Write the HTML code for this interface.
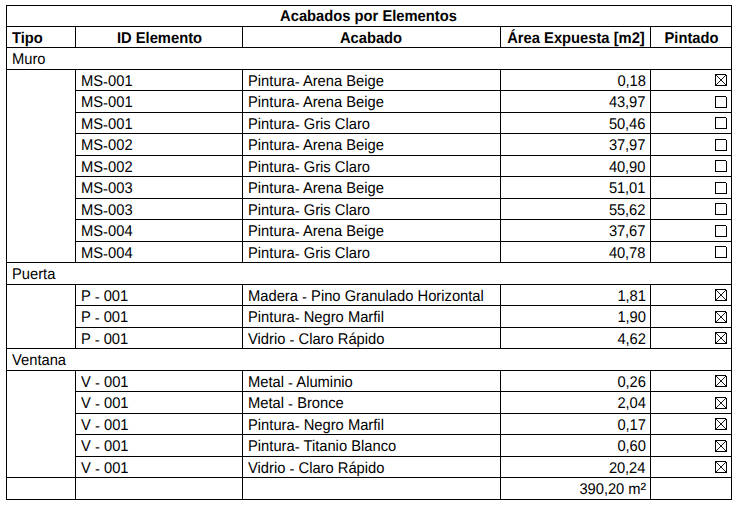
<!DOCTYPE html><html><head><meta charset="utf-8"><style>
html,body{margin:0;padding:0;background:#fff;}
body{width:746px;height:513px;position:relative;overflow:hidden;font-family:"Liberation Sans",sans-serif;font-size:15.5px;color:#000;}
.h{position:absolute;height:1px;background:#000;left:6px;width:726px;}
.v{position:absolute;width:1px;background:#000;}
.t{position:absolute;white-space:nowrap;text-rendering:geometricPrecision;line-height:17px;height:17px;}
.b{font-weight:bold;}
.cb{position:absolute;width:12px;height:12px;}
</style></head><body>
<div class="h" style="top:5px"></div>
<div class="h" style="top:26px"></div>
<div class="h" style="top:47px"></div>
<div class="h" style="top:69px"></div>
<div class="h" style="top:90px;left:75px;width:657px"></div>
<div class="h" style="top:112px;left:75px;width:657px"></div>
<div class="h" style="top:133px;left:75px;width:657px"></div>
<div class="h" style="top:155px;left:75px;width:657px"></div>
<div class="h" style="top:176px;left:75px;width:657px"></div>
<div class="h" style="top:198px;left:75px;width:657px"></div>
<div class="h" style="top:219px;left:75px;width:657px"></div>
<div class="h" style="top:241px;left:75px;width:657px"></div>
<div class="h" style="top:262px"></div>
<div class="h" style="top:284px"></div>
<div class="h" style="top:305px;left:75px;width:657px"></div>
<div class="h" style="top:327px;left:75px;width:657px"></div>
<div class="h" style="top:348px"></div>
<div class="h" style="top:370px"></div>
<div class="h" style="top:391px;left:75px;width:657px"></div>
<div class="h" style="top:413px;left:75px;width:657px"></div>
<div class="h" style="top:434px;left:75px;width:657px"></div>
<div class="h" style="top:456px;left:75px;width:657px"></div>
<div class="h" style="top:477px"></div>
<div class="h" style="top:499px"></div>
<div class="v" style="left:6px;top:5px;height:495px"></div>
<div class="v" style="left:731px;top:5px;height:495px"></div>
<div class="t b" style="top:8px;transform:scale(0.9503,1);transform-origin:center top;left:6.3px;width:725px;text-align:center">Acabados por Elementos</div>
<div class="v" style="left:75px;top:26px;height:22px"></div>
<div class="v" style="left:242px;top:26px;height:22px"></div>
<div class="v" style="left:500px;top:26px;height:22px"></div>
<div class="v" style="left:650px;top:26px;height:22px"></div>
<div class="t b" style="top:30px;transform:scale(0.9503,1);transform-origin:left top;left:12.4px">Tipo</div>
<div class="t b" style="top:30px;transform:scale(0.9503,1);transform-origin:center top;left:75.75px;width:167px;text-align:center">ID Elemento</div>
<div class="t b" style="top:30px;transform:scale(0.9503,1);transform-origin:center top;left:242.4px;width:258px;text-align:center">Acabado</div>
<div class="t b" style="top:30px;transform:scale(0.9503,1);transform-origin:center top;left:500.5px;width:150px;text-align:center">Área Expuesta [m2]</div>
<div class="t b" style="top:30px;transform:scale(0.9503,1);transform-origin:center top;left:650.75px;width:81px;text-align:center">Pintado</div>
<div class="t " style="top:51px;transform:scale(0.9503,1);transform-origin:left top;left:12px">Muro</div>
<div class="v" style="left:75px;top:69px;height:22px"></div>
<div class="v" style="left:242px;top:69px;height:22px"></div>
<div class="v" style="left:500px;top:69px;height:22px"></div>
<div class="v" style="left:650px;top:69px;height:22px"></div>
<div class="t " style="top:73px;transform:scale(0.9503,1);transform-origin:left top;left:81px">MS<span style="position:relative;top:0.5px">-</span>001</div>
<div class="t " style="top:73px;transform:scale(0.9503,1);transform-origin:left top;left:248px">Pintura<span style="position:relative;top:0.5px">-</span> Arena Beige</div>
<div class="t " style="top:73px;transform:scale(0.9503,1);transform-origin:right top;letter-spacing:-0.1px;right:100.4px">0,18</div>
<svg class="cb" style="left:715px;top:74px" viewBox="0 0 12 12"><path shape-rendering="crispEdges" fill="#000" fill-rule="evenodd" d="M0 0H11V1H12V12H0ZM1 1V11H11V1Z"/><path d="M1 1L11 11M11 1L1 11" stroke="#000" stroke-width="0.9" fill="none"/></svg>
<div class="v" style="left:75px;top:90px;height:23px"></div>
<div class="v" style="left:242px;top:90px;height:23px"></div>
<div class="v" style="left:500px;top:90px;height:23px"></div>
<div class="v" style="left:650px;top:90px;height:23px"></div>
<div class="t " style="top:94px;transform:scale(0.9503,1);transform-origin:left top;left:81px">MS<span style="position:relative;top:0.5px">-</span>001</div>
<div class="t " style="top:94px;transform:scale(0.9503,1);transform-origin:left top;left:248px">Pintura<span style="position:relative;top:0.5px">-</span> Arena Beige</div>
<div class="t " style="top:94px;transform:scale(0.9503,1);transform-origin:right top;letter-spacing:-0.1px;right:100.4px">43,97</div>
<svg class="cb" style="left:715px;top:96px" viewBox="0 0 12 12"><path shape-rendering="crispEdges" fill="#000" fill-rule="evenodd" d="M0 0H11V1H12V12H0ZM1 1V11H11V1Z"/></svg>
<div class="v" style="left:75px;top:112px;height:22px"></div>
<div class="v" style="left:242px;top:112px;height:22px"></div>
<div class="v" style="left:500px;top:112px;height:22px"></div>
<div class="v" style="left:650px;top:112px;height:22px"></div>
<div class="t " style="top:116px;transform:scale(0.9503,1);transform-origin:left top;left:81px">MS<span style="position:relative;top:0.5px">-</span>001</div>
<div class="t " style="top:116px;transform:scale(0.9503,1);transform-origin:left top;left:248px">Pintura<span style="position:relative;top:0.5px">-</span> Gris Claro</div>
<div class="t " style="top:116px;transform:scale(0.9503,1);transform-origin:right top;letter-spacing:-0.1px;right:100.4px">50,46</div>
<svg class="cb" style="left:715px;top:117px" viewBox="0 0 12 12"><path shape-rendering="crispEdges" fill="#000" fill-rule="evenodd" d="M0 0H11V1H12V12H0ZM1 1V11H11V1Z"/></svg>
<div class="v" style="left:75px;top:133px;height:23px"></div>
<div class="v" style="left:242px;top:133px;height:23px"></div>
<div class="v" style="left:500px;top:133px;height:23px"></div>
<div class="v" style="left:650px;top:133px;height:23px"></div>
<div class="t " style="top:137px;transform:scale(0.9503,1);transform-origin:left top;left:81px">MS<span style="position:relative;top:0.5px">-</span>002</div>
<div class="t " style="top:137px;transform:scale(0.9503,1);transform-origin:left top;left:248px">Pintura<span style="position:relative;top:0.5px">-</span> Arena Beige</div>
<div class="t " style="top:137px;transform:scale(0.9503,1);transform-origin:right top;letter-spacing:-0.1px;right:100.4px">37,97</div>
<svg class="cb" style="left:715px;top:139px" viewBox="0 0 12 12"><path shape-rendering="crispEdges" fill="#000" fill-rule="evenodd" d="M0 0H11V1H12V12H0ZM1 1V11H11V1Z"/></svg>
<div class="v" style="left:75px;top:155px;height:22px"></div>
<div class="v" style="left:242px;top:155px;height:22px"></div>
<div class="v" style="left:500px;top:155px;height:22px"></div>
<div class="v" style="left:650px;top:155px;height:22px"></div>
<div class="t " style="top:159px;transform:scale(0.9503,1);transform-origin:left top;left:81px">MS<span style="position:relative;top:0.5px">-</span>002</div>
<div class="t " style="top:159px;transform:scale(0.9503,1);transform-origin:left top;left:248px">Pintura<span style="position:relative;top:0.5px">-</span> Gris Claro</div>
<div class="t " style="top:159px;transform:scale(0.9503,1);transform-origin:right top;letter-spacing:-0.1px;right:100.4px">40,90</div>
<svg class="cb" style="left:715px;top:160px" viewBox="0 0 12 12"><path shape-rendering="crispEdges" fill="#000" fill-rule="evenodd" d="M0 0H11V1H12V12H0ZM1 1V11H11V1Z"/></svg>
<div class="v" style="left:75px;top:176px;height:23px"></div>
<div class="v" style="left:242px;top:176px;height:23px"></div>
<div class="v" style="left:500px;top:176px;height:23px"></div>
<div class="v" style="left:650px;top:176px;height:23px"></div>
<div class="t " style="top:180px;transform:scale(0.9503,1);transform-origin:left top;left:81px">MS<span style="position:relative;top:0.5px">-</span>003</div>
<div class="t " style="top:180px;transform:scale(0.9503,1);transform-origin:left top;left:248px">Pintura<span style="position:relative;top:0.5px">-</span> Arena Beige</div>
<div class="t " style="top:180px;transform:scale(0.9503,1);transform-origin:right top;letter-spacing:-0.1px;right:100.4px">51,01</div>
<svg class="cb" style="left:715px;top:182px" viewBox="0 0 12 12"><path shape-rendering="crispEdges" fill="#000" fill-rule="evenodd" d="M0 0H11V1H12V12H0ZM1 1V11H11V1Z"/></svg>
<div class="v" style="left:75px;top:198px;height:22px"></div>
<div class="v" style="left:242px;top:198px;height:22px"></div>
<div class="v" style="left:500px;top:198px;height:22px"></div>
<div class="v" style="left:650px;top:198px;height:22px"></div>
<div class="t " style="top:202px;transform:scale(0.9503,1);transform-origin:left top;left:81px">MS<span style="position:relative;top:0.5px">-</span>003</div>
<div class="t " style="top:202px;transform:scale(0.9503,1);transform-origin:left top;left:248px">Pintura<span style="position:relative;top:0.5px">-</span> Gris Claro</div>
<div class="t " style="top:202px;transform:scale(0.9503,1);transform-origin:right top;letter-spacing:-0.1px;right:100.4px">55,62</div>
<svg class="cb" style="left:715px;top:203px" viewBox="0 0 12 12"><path shape-rendering="crispEdges" fill="#000" fill-rule="evenodd" d="M0 0H11V1H12V12H0ZM1 1V11H11V1Z"/></svg>
<div class="v" style="left:75px;top:219px;height:23px"></div>
<div class="v" style="left:242px;top:219px;height:23px"></div>
<div class="v" style="left:500px;top:219px;height:23px"></div>
<div class="v" style="left:650px;top:219px;height:23px"></div>
<div class="t " style="top:223px;transform:scale(0.9503,1);transform-origin:left top;left:81px">MS<span style="position:relative;top:0.5px">-</span>004</div>
<div class="t " style="top:223px;transform:scale(0.9503,1);transform-origin:left top;left:248px">Pintura<span style="position:relative;top:0.5px">-</span> Arena Beige</div>
<div class="t " style="top:223px;transform:scale(0.9503,1);transform-origin:right top;letter-spacing:-0.1px;right:100.4px">37,67</div>
<svg class="cb" style="left:715px;top:225px" viewBox="0 0 12 12"><path shape-rendering="crispEdges" fill="#000" fill-rule="evenodd" d="M0 0H11V1H12V12H0ZM1 1V11H11V1Z"/></svg>
<div class="v" style="left:75px;top:241px;height:22px"></div>
<div class="v" style="left:242px;top:241px;height:22px"></div>
<div class="v" style="left:500px;top:241px;height:22px"></div>
<div class="v" style="left:650px;top:241px;height:22px"></div>
<div class="t " style="top:245px;transform:scale(0.9503,1);transform-origin:left top;left:81px">MS<span style="position:relative;top:0.5px">-</span>004</div>
<div class="t " style="top:245px;transform:scale(0.9503,1);transform-origin:left top;left:248px">Pintura<span style="position:relative;top:0.5px">-</span> Gris Claro</div>
<div class="t " style="top:245px;transform:scale(0.9503,1);transform-origin:right top;letter-spacing:-0.1px;right:100.4px">40,78</div>
<svg class="cb" style="left:715px;top:246px" viewBox="0 0 12 12"><path shape-rendering="crispEdges" fill="#000" fill-rule="evenodd" d="M0 0H11V1H12V12H0ZM1 1V11H11V1Z"/></svg>
<div class="t " style="top:266px;transform:scale(0.9503,1);transform-origin:left top;left:12px">Puerta</div>
<div class="v" style="left:75px;top:284px;height:22px"></div>
<div class="v" style="left:242px;top:284px;height:22px"></div>
<div class="v" style="left:500px;top:284px;height:22px"></div>
<div class="v" style="left:650px;top:284px;height:22px"></div>
<div class="t " style="top:288px;transform:scale(0.9503,1);transform-origin:left top;left:81px">P <span style="position:relative;top:0.5px">-</span> 001</div>
<div class="t " style="top:288px;transform:scale(0.9503,1);transform-origin:left top;left:248px">Madera <span style="position:relative;top:0.5px">-</span> Pino Granulado Horizontal</div>
<div class="t " style="top:288px;transform:scale(0.9503,1);transform-origin:right top;letter-spacing:-0.1px;right:100.4px">1,81</div>
<svg class="cb" style="left:715px;top:289px" viewBox="0 0 12 12"><path shape-rendering="crispEdges" fill="#000" fill-rule="evenodd" d="M0 0H11V1H12V12H0ZM1 1V11H11V1Z"/><path d="M1 1L11 11M11 1L1 11" stroke="#000" stroke-width="0.9" fill="none"/></svg>
<div class="v" style="left:75px;top:305px;height:23px"></div>
<div class="v" style="left:242px;top:305px;height:23px"></div>
<div class="v" style="left:500px;top:305px;height:23px"></div>
<div class="v" style="left:650px;top:305px;height:23px"></div>
<div class="t " style="top:309px;transform:scale(0.9503,1);transform-origin:left top;left:81px">P <span style="position:relative;top:0.5px">-</span> 001</div>
<div class="t " style="top:309px;transform:scale(0.9503,1);transform-origin:left top;left:248px">Pintura<span style="position:relative;top:0.5px">-</span> Negro Marfil</div>
<div class="t " style="top:309px;transform:scale(0.9503,1);transform-origin:right top;letter-spacing:-0.1px;right:100.4px">1,90</div>
<svg class="cb" style="left:715px;top:311px" viewBox="0 0 12 12"><path shape-rendering="crispEdges" fill="#000" fill-rule="evenodd" d="M0 0H11V1H12V12H0ZM1 1V11H11V1Z"/><path d="M1 1L11 11M11 1L1 11" stroke="#000" stroke-width="0.9" fill="none"/></svg>
<div class="v" style="left:75px;top:327px;height:22px"></div>
<div class="v" style="left:242px;top:327px;height:22px"></div>
<div class="v" style="left:500px;top:327px;height:22px"></div>
<div class="v" style="left:650px;top:327px;height:22px"></div>
<div class="t " style="top:331px;transform:scale(0.9503,1);transform-origin:left top;left:81px">P <span style="position:relative;top:0.5px">-</span> 001</div>
<div class="t " style="top:331px;transform:scale(0.9503,1);transform-origin:left top;left:248px">Vidrio <span style="position:relative;top:0.5px">-</span> Claro Rápido</div>
<div class="t " style="top:331px;transform:scale(0.9503,1);transform-origin:right top;letter-spacing:-0.1px;right:100.4px">4,62</div>
<svg class="cb" style="left:715px;top:332px" viewBox="0 0 12 12"><path shape-rendering="crispEdges" fill="#000" fill-rule="evenodd" d="M0 0H11V1H12V12H0ZM1 1V11H11V1Z"/><path d="M1 1L11 11M11 1L1 11" stroke="#000" stroke-width="0.9" fill="none"/></svg>
<div class="t " style="top:352px;transform:scale(0.9503,1);transform-origin:left top;left:12px">Ventana</div>
<div class="v" style="left:75px;top:370px;height:22px"></div>
<div class="v" style="left:242px;top:370px;height:22px"></div>
<div class="v" style="left:500px;top:370px;height:22px"></div>
<div class="v" style="left:650px;top:370px;height:22px"></div>
<div class="t " style="top:374px;transform:scale(0.9503,1);transform-origin:left top;left:81px">V <span style="position:relative;top:0.5px">-</span> 001</div>
<div class="t " style="top:374px;transform:scale(0.9503,1);transform-origin:left top;left:248px">Metal <span style="position:relative;top:0.5px">-</span> Aluminio</div>
<div class="t " style="top:374px;transform:scale(0.9503,1);transform-origin:right top;letter-spacing:-0.1px;right:100.4px">0,26</div>
<svg class="cb" style="left:715px;top:375px" viewBox="0 0 12 12"><path shape-rendering="crispEdges" fill="#000" fill-rule="evenodd" d="M0 0H11V1H12V12H0ZM1 1V11H11V1Z"/><path d="M1 1L11 11M11 1L1 11" stroke="#000" stroke-width="0.9" fill="none"/></svg>
<div class="v" style="left:75px;top:391px;height:23px"></div>
<div class="v" style="left:242px;top:391px;height:23px"></div>
<div class="v" style="left:500px;top:391px;height:23px"></div>
<div class="v" style="left:650px;top:391px;height:23px"></div>
<div class="t " style="top:395px;transform:scale(0.9503,1);transform-origin:left top;left:81px">V <span style="position:relative;top:0.5px">-</span> 001</div>
<div class="t " style="top:395px;transform:scale(0.9503,1);transform-origin:left top;left:248px">Metal <span style="position:relative;top:0.5px">-</span> Bronce</div>
<div class="t " style="top:395px;transform:scale(0.9503,1);transform-origin:right top;letter-spacing:-0.1px;right:100.4px">2,04</div>
<svg class="cb" style="left:715px;top:397px" viewBox="0 0 12 12"><path shape-rendering="crispEdges" fill="#000" fill-rule="evenodd" d="M0 0H11V1H12V12H0ZM1 1V11H11V1Z"/><path d="M1 1L11 11M11 1L1 11" stroke="#000" stroke-width="0.9" fill="none"/></svg>
<div class="v" style="left:75px;top:413px;height:22px"></div>
<div class="v" style="left:242px;top:413px;height:22px"></div>
<div class="v" style="left:500px;top:413px;height:22px"></div>
<div class="v" style="left:650px;top:413px;height:22px"></div>
<div class="t " style="top:417px;transform:scale(0.9503,1);transform-origin:left top;left:81px">V <span style="position:relative;top:0.5px">-</span> 001</div>
<div class="t " style="top:417px;transform:scale(0.9503,1);transform-origin:left top;left:248px">Pintura<span style="position:relative;top:0.5px">-</span> Negro Marfil</div>
<div class="t " style="top:417px;transform:scale(0.9503,1);transform-origin:right top;letter-spacing:-0.1px;right:100.4px">0,17</div>
<svg class="cb" style="left:715px;top:418px" viewBox="0 0 12 12"><path shape-rendering="crispEdges" fill="#000" fill-rule="evenodd" d="M0 0H11V1H12V12H0ZM1 1V11H11V1Z"/><path d="M1 1L11 11M11 1L1 11" stroke="#000" stroke-width="0.9" fill="none"/></svg>
<div class="v" style="left:75px;top:434px;height:23px"></div>
<div class="v" style="left:242px;top:434px;height:23px"></div>
<div class="v" style="left:500px;top:434px;height:23px"></div>
<div class="v" style="left:650px;top:434px;height:23px"></div>
<div class="t " style="top:438px;transform:scale(0.9503,1);transform-origin:left top;left:81px">V <span style="position:relative;top:0.5px">-</span> 001</div>
<div class="t " style="top:438px;transform:scale(0.9503,1);transform-origin:left top;left:248px">Pintura<span style="position:relative;top:0.5px">-</span> Titanio Blanco</div>
<div class="t " style="top:438px;transform:scale(0.9503,1);transform-origin:right top;letter-spacing:-0.1px;right:100.4px">0,60</div>
<svg class="cb" style="left:715px;top:440px" viewBox="0 0 12 12"><path shape-rendering="crispEdges" fill="#000" fill-rule="evenodd" d="M0 0H11V1H12V12H0ZM1 1V11H11V1Z"/><path d="M1 1L11 11M11 1L1 11" stroke="#000" stroke-width="0.9" fill="none"/></svg>
<div class="v" style="left:75px;top:456px;height:22px"></div>
<div class="v" style="left:242px;top:456px;height:22px"></div>
<div class="v" style="left:500px;top:456px;height:22px"></div>
<div class="v" style="left:650px;top:456px;height:22px"></div>
<div class="t " style="top:460px;transform:scale(0.9503,1);transform-origin:left top;left:81px">V <span style="position:relative;top:0.5px">-</span> 001</div>
<div class="t " style="top:460px;transform:scale(0.9503,1);transform-origin:left top;left:248px">Vidrio <span style="position:relative;top:0.5px">-</span> Claro Rápido</div>
<div class="t " style="top:460px;transform:scale(0.9503,1);transform-origin:right top;letter-spacing:-0.1px;right:100.4px">20,24</div>
<svg class="cb" style="left:715px;top:461px" viewBox="0 0 12 12"><path shape-rendering="crispEdges" fill="#000" fill-rule="evenodd" d="M0 0H11V1H12V12H0ZM1 1V11H11V1Z"/><path d="M1 1L11 11M11 1L1 11" stroke="#000" stroke-width="0.9" fill="none"/></svg>
<div class="v" style="left:75px;top:477px;height:23px"></div>
<div class="v" style="left:242px;top:477px;height:23px"></div>
<div class="v" style="left:500px;top:477px;height:23px"></div>
<div class="v" style="left:650px;top:477px;height:23px"></div>
<div class="t " style="top:481px;transform:scale(0.9503,1);transform-origin:right top;letter-spacing:-0.06px;right:100.15px">390,20 m<span style="font-size:1.15em;line-height:0;position:relative;top:0.8px">²</span></div>
</body></html>
